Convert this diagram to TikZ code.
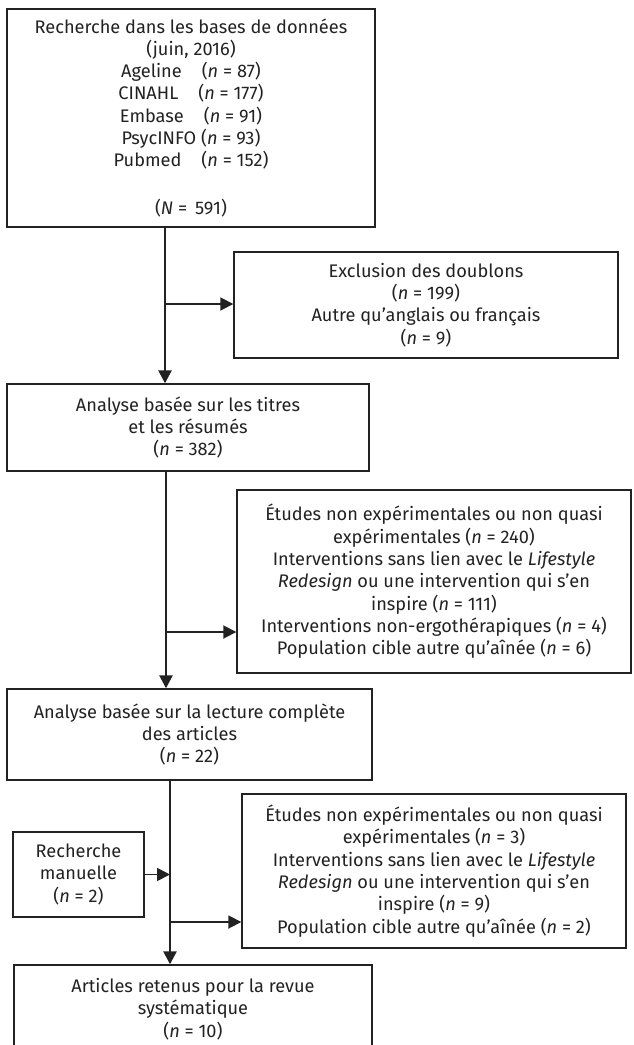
\documentclass[tikz,border=0pt]{standalone}
\usepackage{fontspec}
\setmainfont{Fira Sans}
\usetikzlibrary{arrows.meta,calc}
\definecolor{ink}{HTML}{222222}
\begin{document}
\begin{tikzpicture}[x=1pt,y=-1pt,
  box/.style={draw=ink, line width=1.4pt, inner sep=0pt, align=center, text=ink,
    font=\fontsize{18.2}{22.3}\selectfont},
  spine/.style={draw=ink, line width=2.6pt, -{Triangle[length=13pt,width=13pt]}},
  branch/.style={draw=ink, line width=1.8pt, -{Triangle[length=13pt,width=13pt]}}]
\useasboundingbox (0,0) rectangle (634,1045);
\clip (0,0) rectangle (634,1045);
\fill[white] (0,0) rectangle (634,1045);

\node[box, minimum width=368pt, minimum height=218pt] (b1) at (191,118) {Recherche dans les bases de données\\
(juin, 2016)\\
Ageline\hspace{1.1em}(\textit{n} = 87)\\
CINAHL\hspace{1.1em}(\textit{n} = 177)\\
Embase\hspace{1.1em}(\textit{n} = 91)\\
PsycINFO (\textit{n} = 93)\\
Pubmed\hspace{1.1em}(\textit{n} = 152)\\[25.7pt]
(\textit{N} = \,591)};

\node[box, minimum width=384pt, minimum height=106pt] (b2) at (426,305) {Exclusion des doublons\\
(\textit{n} = 199)\\
Autre qu’anglais ou français\\
(\textit{n} = 9)};

\node[box, minimum width=362pt, minimum height=87pt] (b3) at (188,427.5) {Analyse basée sur les titres\\
et les résumés\\
(\textit{n} = 382)};

\node[box, minimum width=394pt, minimum height=183pt] (b4) at (434,581.5) {Études non expérimentales ou non quasi\\
expérimentales (\textit{n} = 240)\\
Interventions sans lien avec le \textit{Lifestyle}\\
\textit{Redesign} ou une intervention qui s’en\\
inspire (\textit{n} = 111)\\
Interventions non-ergothérapiques (\textit{n} = 4)\\
Population cible autre qu’aînée (\textit{n} = 6)};

\node[box, minimum width=365pt, minimum height=91pt] (b5) at (189.5,734.5) {Analyse basée sur la lecture complète\\
des articles\\
(\textit{n} = 22)};

\node[box, minimum width=131pt, minimum height=85pt] (b6) at (78.5,874.5) {Recherche\\
manuelle\\
(\textit{n} = 2)};

\node[box, minimum width=384pt, minimum height=154pt] (b7) at (434,871) {Études non expérimentales ou non quasi\\
expérimentales (\textit{n} = 3)\\
Interventions sans lien avec le \textit{Lifestyle}\\
\textit{Redesign} ou une intervention qui s’en\\
inspire (\textit{n} = 9)\\
Population cible autre qu’aînée (\textit{n} = 2)};

\node[box, minimum width=358pt, minimum height=88pt] (b8) at (193,1009) {Articles retenus pour la revue\\
systématique\\
(\textit{n} = 10)};

\coordinate (s1) at (165,0);
\coordinate (s2) at (166,0);
\coordinate (s3) at (170,0);
\coordinate (j1) at (165,304);
\coordinate (j2) at (166,632);
\coordinate (j4) at (170,922);

\draw[spine] (b1.south -| s1) -- (b3.north -| s1);
\draw[branch] (j1) -- (j1 -| b2.west);
\draw[spine] (b3.south -| s2) -- (b5.north -| s2);
\draw[branch] (j2) -- (j2 -| b4.west);
\draw[spine] (b5.south -| s3) -- (b8.north -| s3);
\draw[branch] (b6.east) -- (b6.east -| s3);
\draw[branch] (j4) -- (j4 -| b7.west);
\end{tikzpicture}
\end{document}
